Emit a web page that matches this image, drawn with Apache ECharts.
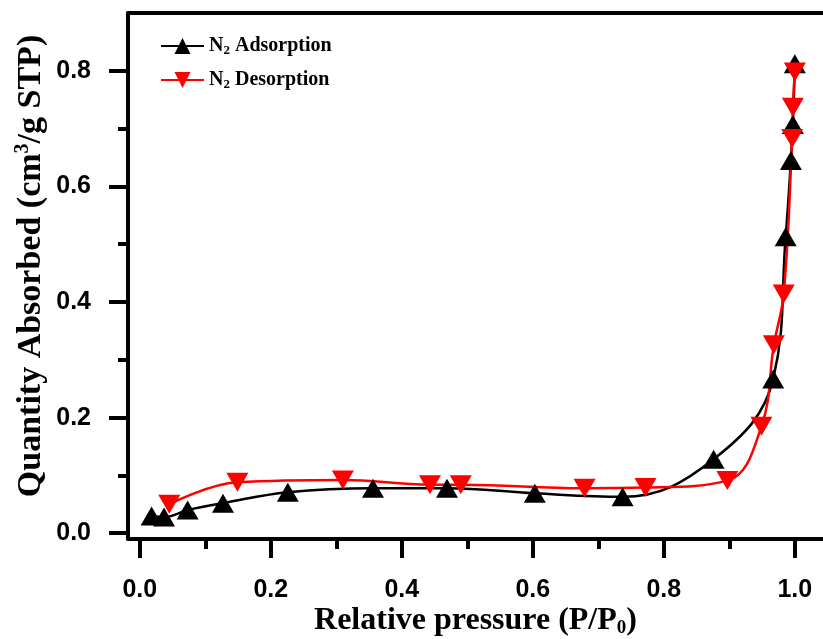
<!DOCTYPE html>
<html>
<head>
<meta charset="utf-8">
<script src="https://cdn.jsdelivr.net/npm/echarts@6/dist/echarts.min.js"></script>
<style>
  html, body { margin: 0; padding: 0; background: #fff; }
  #chart { width: 823px; height: 639px; }
</style>
</head>
<body>
<div id="chart"></div>
<script>
// N2 adsorption branch (P/P0, quantity)
const adsX = [0.018, 0.037, 0.073, 0.127, 0.226, 0.356, 0.469, 0.603, 0.737, 0.876, 0.967, 0.986, 0.994, 0.997, 1.0];
const adsY = [0.030, 0.028, 0.040, 0.052, 0.071, 0.078, 0.078, 0.069, 0.063, 0.128, 0.267, 0.513, 0.645, 0.707, 0.812];
// N2 desorption branch
const desX = [0.045, 0.149, 0.310, 0.443, 0.490, 0.679, 0.772, 0.897, 0.949, 0.968, 0.983, 0.996, 0.997, 1.0];
const desY = [0.050, 0.088, 0.092, 0.084, 0.084, 0.078, 0.079, 0.091, 0.185, 0.326, 0.414, 0.683, 0.737, 0.798];

const xMajor = [0, 0.2, 0.4, 0.6, 0.8, 1.0];
const xMinor = [0.1, 0.3, 0.5, 0.7, 0.9];
const yMajor = [0, 0.2, 0.4, 0.6, 0.8];
const yMinor = [0.1, 0.3, 0.5, 0.7];

const serif = '"Liberation Serif", "Times New Roman", serif';
const sans = '"Liberation Sans", Arial, sans-serif';

const pairs = (xs, ys) => xs.map((x, i) => [x, ys[i]]);

const lineCol = '#000';
const axisW = 4;

function xAx(extra) {
  return Object.assign({
    type: 'value', min: -0.018, max: 1.043, position: 'bottom',
    splitLine: { show: false },
    axisLine: { show: false, onZero: false },
    axisTick: { show: false },
    axisLabel: { show: false }
  }, extra);
}
function yAx(extra) {
  return Object.assign({
    type: 'value', min: -0.01, max: 0.9, position: 'left',
    splitLine: { show: false },
    axisLine: { show: false, onZero: false },
    axisTick: { show: false },
    axisLabel: { show: false }
  }, extra);
}

const chart = echarts.init(document.getElementById('chart'));
chart.setOption({
  animation: false,
  backgroundColor: '#fff',
  grid: { left: 128, right: 0, top: 13, bottom: 100, containLabel: false, outerBoundsMode: 'none' },
  legend: {
    orient: 'vertical',
    left: 155, top: 31,
    itemWidth: 43, itemHeight: 20, itemGap: 13,
    data: ['N2 Adsorption', 'N2 Desorption'],
    formatter: name => 'N{s|2} ' + name.slice(3),
    textStyle: {
      fontFamily: serif, fontWeight: 'bold', fontSize: 20, color: '#000', lineHeight: 20,
      rich: { s: { fontFamily: serif, fontWeight: 'bold', fontSize: 13, padding: [9, 0, 0, 0] } }
    }
  },
  xAxis: [
    xAx({
      name: 'Relative pressure (P/P{s|0})',
      nameLocation: 'middle', nameGap: 65, nameMoveOverlap: false,
      nameTextStyle: {
        fontFamily: serif, fontWeight: 'bold', fontSize: 32, color: '#000',
        rich: { s: { fontFamily: serif, fontWeight: 'bold', fontSize: 19, padding: [15, 0, 0, 0] } }
      },
      axisLine: { show: true, onZero: false, lineStyle: { color: lineCol, width: axisW } },
      axisTick: { show: true, customValues: xMajor, length: 19, lineStyle: { color: lineCol, width: 4 } },
      axisLabel: {
        show: true, customValues: xMajor, margin: 39,
        fontFamily: sans, fontWeight: 'bold', fontSize: 25, color: '#000',
        formatter: v => v.toFixed(1)
      }
    }),
    xAx({
      axisTick: { show: true, customValues: xMinor, length: 10, lineStyle: { color: lineCol, width: 4 } }
    }),
    xAx({
      position: 'top',
      axisLine: { show: true, onZero: false, lineStyle: { color: lineCol, width: axisW } }
    })
  ],
  yAxis: [
    yAx({
      name: 'Quantity Absorbed (cm{p|3}/g STP)',
      nameLocation: 'middle', nameGap: 79, nameMoveOverlap: false,
      nameTextStyle: {
        fontFamily: serif, fontWeight: 'bold', fontSize: 34, color: '#000',
        padding: [0, 0, 0, 20],
        rich: { p: { fontFamily: serif, fontWeight: 'bold', fontSize: 20, padding: [0, 0, 16, 0] } }
      },
      axisLine: { show: true, onZero: false, lineStyle: { color: lineCol, width: axisW } },
      axisTick: { show: true, customValues: yMajor, length: 19, lineStyle: { color: lineCol, width: 4 } },
      axisLabel: {
        show: true, customValues: yMajor, margin: 37,
        fontFamily: sans, fontWeight: 'bold', fontSize: 25, color: '#000',
        formatter: v => v.toFixed(1)
      }
    }),
    yAx({
      axisTick: { show: true, customValues: yMinor, length: 10, lineStyle: { color: lineCol, width: 4 } }
    })
  ],
  series: [
    {
      name: 'N2 Adsorption',
      type: 'line',
      xAxisIndex: 0, yAxisIndex: 0,
      smooth: 0.4,
      symbol: 'triangle',
      symbolSize: [22, 19],
      itemStyle: { color: '#000' },
      lineStyle: { color: '#000', width: 2.5 },
      data: pairs(adsX, adsY)
    },
    {
      name: 'N2 Desorption',
      type: 'line',
      xAxisIndex: 0, yAxisIndex: 0,
      smooth: 0.4,
      symbol: 'triangle',
      symbolRotate: 180,
      symbolSize: [22, 19],
      itemStyle: { color: '#ff0000' },
      lineStyle: { color: '#ff0000', width: 2.5 },
      data: pairs(desX, desY)
    }
  ]
});
window.addEventListener('resize', () => { chart.resize(); });
</script>
</body>
</html>
